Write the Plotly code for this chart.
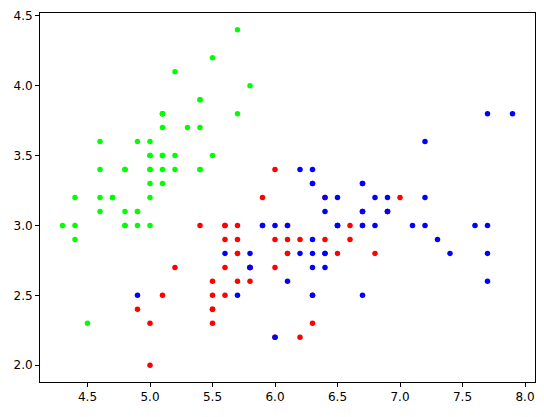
import plotly.graph_objects as go

setosa_x = [5.1,4.9,4.7,4.6,5.0,5.4,4.6,5.0,4.4,4.9,5.4,4.8,4.8,4.3,5.8,5.7,5.4,5.1,5.7,5.1,
            5.4,5.1,4.6,5.1,4.8,5.0,5.0,5.2,5.2,4.7,4.8,5.4,5.2,5.5,4.9,5.0,5.5,4.9,4.4,5.1,
            5.0,4.5,4.4,5.0,5.1,4.8,5.1,4.6,5.3,5.0]
setosa_y = [3.5,3.0,3.2,3.1,3.6,3.9,3.4,3.4,2.9,3.1,3.7,3.4,3.0,3.0,4.0,4.4,3.9,3.5,3.8,3.8,
            3.4,3.7,3.6,3.3,3.4,3.0,3.4,3.5,3.4,3.2,3.1,3.4,4.1,4.2,3.1,3.2,3.5,3.6,3.0,3.4,
            3.5,2.3,3.2,3.5,3.8,3.0,3.8,3.2,3.7,3.3]
versicolor_x = [7.0,6.4,6.9,5.5,6.5,5.7,6.3,4.9,6.6,5.2,5.0,5.9,6.0,6.1,5.6,6.7,5.6,5.8,6.2,5.6,
                5.9,6.1,6.3,6.1,6.4,6.6,6.8,6.7,6.0,5.7,5.5,5.5,5.8,6.0,5.4,6.0,6.7,6.3,5.6,5.5,
                5.5,6.1,5.8,5.0,5.6,5.7,5.7,6.2,5.1,5.7]
versicolor_y = [3.2,3.2,3.1,2.3,2.8,2.8,3.3,2.4,2.9,2.7,2.0,3.0,2.2,2.9,2.9,3.1,3.0,2.7,2.2,2.5,
                3.2,2.8,2.5,2.8,2.9,3.0,2.8,3.0,2.9,2.6,2.4,2.4,2.7,2.7,3.0,3.4,3.1,2.3,3.0,2.5,
                2.6,3.0,2.6,2.3,2.7,3.0,2.9,2.9,2.5,2.8]
virginica_x = [6.3,5.8,7.1,6.3,6.5,7.6,4.9,7.3,6.7,7.2,6.5,6.4,6.8,5.7,5.8,6.4,6.5,7.7,7.7,6.0,
               6.9,5.6,7.7,6.3,6.7,7.2,6.2,6.1,6.4,7.2,7.4,7.9,6.4,6.3,6.1,7.7,6.3,6.4,6.0,6.9,
               6.7,6.9,5.8,6.8,6.7,6.7,6.3,6.5,6.2,5.9]
virginica_y = [3.3,2.7,3.0,2.9,3.0,3.0,2.5,2.9,2.5,3.6,3.2,2.7,3.0,2.5,2.8,3.2,3.0,3.8,2.6,2.2,
               3.2,2.8,2.8,2.7,3.3,3.2,2.8,3.0,2.8,3.0,2.8,3.8,2.8,2.8,2.6,3.0,3.4,3.1,3.0,3.1,
               3.1,3.1,2.7,3.2,3.3,3.0,2.5,3.0,3.4,3.0]

series = [
    (setosa_x, setosa_y, "#00ff00"),
    (versicolor_x, versicolor_y, "#ff0000"),
    (virginica_x, virginica_y, "#0000ff"),
]

fig = go.Figure()
for xs, ys, c in series:
    fig.add_trace(go.Scatter(x=xs, y=ys, mode="markers",
                             marker=dict(color=c, size=5.5, line=dict(width=0)),
                             showlegend=False))

axis_common = dict(showgrid=False, zeroline=False, showline=True, linecolor="black",
                   linewidth=1, mirror=True, ticks="outside", ticklen=4,
                   tickcolor="black", tickwidth=1,
                   tickfont=dict(family="DejaVu Sans", size=12, color="black"))
fig.update_xaxes(range=[4.12, 8.08], tickvals=[4.5,5.0,5.5,6.0,6.5,7.0,7.5,8.0],
                 ticktext=["4.5","5.0","5.5","6.0","6.5","7.0","7.5","8.0"], **axis_common)
fig.update_yaxes(range=[1.88, 4.52], tickvals=[2.0,2.5,3.0,3.5,4.0,4.5],
                 ticktext=["2.0","2.5","3.0","3.5","4.0","4.5"], **axis_common)
fig.update_layout(width=544, height=417, margin=dict(l=40, r=9, t=13, b=35),
                  plot_bgcolor="white", paper_bgcolor="white")
fig.write_html("out.html", config={"displayModeBar": False},
               post_script="document.body.style.margin='0';document.body.style.overflow='hidden';")
